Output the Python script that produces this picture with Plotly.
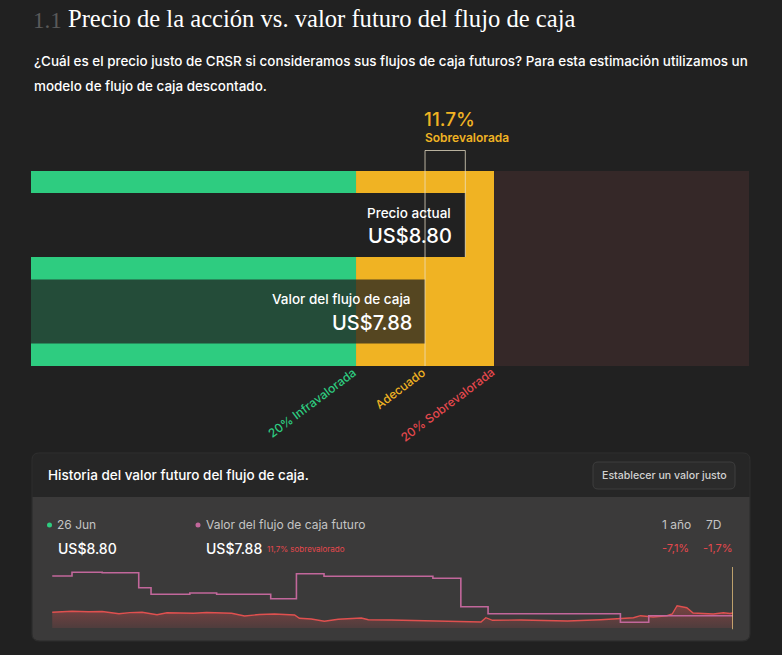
import plotly.graph_objects as go

W, H = 782, 655
BG = "#212121"
GREEN = "#2ECC80"
YELLOW = "#F0B323"
BROWN = "#352828"
RED = "#E5484D"
PINK = "#C2679B"
UI = "Inter"

# ---------------- data ----------------
price_now = 8.80
fair_value = 7.88
zone_low_pct = 0.20
zone_high_pct = 0.20
bar_labels = ["Precio actual", "Valor del flujo de caja"]
zone_labels = ["20% Infravalorada", "Adecuado", "20% Sobrevalorada"]

price_dates = ["2020-06-26", "2020-08-18", "2020-10-01", "2020-11-07", "2020-12-22", "2021-01-20",
               "2021-02-22", "2021-04-03", "2021-04-30", "2021-06-09", "2021-07-10", "2021-08-14",
               "2021-10-20", "2021-11-24", "2022-01-03", "2022-02-12", "2022-04-07", "2022-04-20",
               "2022-05-22", "2022-06-26", "2022-08-02", "2022-10-03", "2022-10-22", "2022-12-22",
               "2023-02-15", "2023-04-08", "2023-06-27", "2023-08-20", "2023-09-02", "2023-09-20",
               "2023-12-05", "2024-02-10", "2024-04-08", "2024-07-06", "2024-08-28", "2024-10-02",
               "2024-10-21", "2024-11-24", "2024-12-31", "2025-01-14", "2025-01-27", "2025-02-22",
               "2025-03-11", "2025-04-07", "2025-05-04", "2025-05-31", "2025-06-18", "2025-06-26"]
price_values = [9.05, 9.40, 9.25, 9.33, 8.57, 8.95,
                9.05, 8.22, 8.91, 8.81, 8.70, 8.98,
                8.71, 7.78, 8.29, 8.47, 8.12, 6.98,
                6.74, 5.95, 6.64, 7.09, 6.50, 6.40,
                6.30, 6.16, 6.05, 5.71, 7.19, 6.29,
                6.40, 6.22, 6.05, 6.50, 6.91, 7.19,
                7.88, 7.43, 7.88, 8.47, 11.33, 10.64,
                8.81, 8.64, 8.47, 8.91, 8.64, 8.80]

fv_dates = ["2020-06-26", "2020-08-18", "2020-11-07", "2021-02-13", "2021-03-18", "2021-06-30",
            "2021-09-10", "2022-02-02", "2022-04-12", "2022-06-25", "2023-04-13", "2023-06-27",
            "2023-09-08", "2024-08-28", "2024-11-12", "2025-06-26"]
fv_values = [21.57, 22.85, 22.70, 17.54, 15.26, 15.71,
             15.26, 13.74, 22.36, 21.47, 20.78, 10.98,
             8.57, 5.60, 7.88, 7.88]

last_date = "26 Jun"
change_1y = "-7,1%"
change_7d = "-1,7%"

# ---------------- helpers (layout positions) ----------------
def px(x):
    return x / W

def py(y):
    return 1 - y / H

def rr_path(x0, y0, x1, y1, rtl, rtr, rbr, rbl):
    pts = lambda x, y: f"{px(x):.5f},{py(y):.5f}"
    return (f"M{pts(x0 + rtl, y0)} L{pts(x1 - rtr, y0)} Q{pts(x1, y0)} {pts(x1, y0 + rtr)} "
            f"L{pts(x1, y1 - rbr)} Q{pts(x1, y1)} {pts(x1 - rbr, y1)} "
            f"L{pts(x0 + rbl, y1)} Q{pts(x0, y1)} {pts(x0, y1 - rbl)} "
            f"L{pts(x0, y0 + rtl)} Q{pts(x0, y0)} {pts(x0 + rtl, y0)} Z")

lo = fair_value * (1 - zone_low_pct)
hi = fair_value * (1 + zone_high_pct)
XMIN, XMAX = -1.12, 15.28
pct_over = (price_now / fair_value - 1) * 100

fig = go.Figure()

# valuation bars
fig.add_trace(go.Bar(
    orientation="h", y=bar_labels, x=[price_now - XMIN, fair_value - XMIN], base=XMIN,
    width=0.74, marker=dict(color=[BG, "rgba(33,33,33,0.75)"], line=dict(width=0)),
    hoverinfo="skip", showlegend=False, xaxis="x", yaxis="y"))

# history lines
fig.add_trace(go.Scatter(
    x=price_dates, y=price_values, mode="lines", line=dict(color="#E0504F", width=1.4),
    fill="tozeroy",
    fillgradient=dict(type="vertical", colorscale=[[0, "rgba(224,80,79,0.0)"], [1, "rgba(224,80,79,0.38)"]]),
    hoverinfo="skip", showlegend=False, xaxis="x2", yaxis="y2"))
fig.add_trace(go.Scatter(
    x=fv_dates, y=fv_values, mode="lines", line=dict(color=PINK, width=1.6, shape="hv"),
    hoverinfo="skip", showlegend=False, xaxis="x2", yaxis="y2"))

shapes = []
# zone bands
for x0, x1, c in [(XMIN, lo, GREEN), (lo, hi, YELLOW), (hi, XMAX, BROWN)]:
    shapes.append(dict(type="rect", xref="x", yref="y domain", x0=x0, x1=x1, y0=0, y1=1,
                       fillcolor=c, line=dict(width=0), layer="below"))
# bracket between fair value and price
bcol = "rgba(235,225,200,0.75)"
shapes.append(dict(type="line", xref="x", yref="paper", x0=fair_value, x1=fair_value,
                   y0=py(150.5), y1=py(366), line=dict(color=bcol, width=1), layer="above"))
shapes.append(dict(type="line", xref="x", yref="paper", x0=price_now, x1=price_now,
                   y0=py(150.5), y1=py(257), line=dict(color=bcol, width=1), layer="above"))
shapes.append(dict(type="line", xref="x", yref="paper", x0=fair_value, x1=price_now,
                   y0=py(150.5), y1=py(150.5), line=dict(color=bcol, width=1), layer="above"))

# history panel
shapes.append(dict(type="path", xref="paper", yref="paper",
                   path=rr_path(32, 453, 750, 641, 7, 7, 7, 7),
                   fillcolor="#262626", line=dict(color="#2f2f2f", width=1), layer="below"))
shapes.append(dict(type="path", xref="paper", yref="paper",
                   path=rr_path(32.5, 497, 749.5, 640.5, 0, 0, 7, 7),
                   fillcolor="#3b3a3a", line=dict(width=0), layer="below"))
shapes.append(dict(type="path", xref="paper", yref="paper",
                   path=rr_path(593, 462, 735, 489, 5, 5, 5, 5),
                   fillcolor="#2b2b2b", line=dict(color="#3e3e3e", width=1), layer="below"))
# today marker
shapes.append(dict(type="line", xref="x2", yref="y2 domain", x0=price_dates[-1], x1=price_dates[-1],
                   y0=-0.02, y1=1.0, line=dict(color="#E8C37E", width=1.5), layer="above"))
# legend dots
for cx, c in [(49.5, GREEN), (198, PINK)]:
    shapes.append(dict(type="circle", xref="paper", yref="paper",
                       x0=px(cx - 2.5), x1=px(cx + 2.5), y0=py(527.5), y1=py(522.5),
                       fillcolor=c, line=dict(width=0)))

ann = []
def A(text, x, y, size, color, xanchor="left", yanchor="middle", family=UI, weight=None, **kw):
    f = dict(family=family, size=size, color=color)
    if weight:
        f["weight"] = weight
    ann.append(dict(text=text, x=x, y=y, xref=kw.pop("xref", "paper"), yref=kw.pop("yref", "paper"),
                    xanchor=xanchor, yanchor=yanchor, showarrow=False, font=f, **kw))

A("1.1", px(31), py(20), 23, "#5a5a5a", family="Liberation Serif")
A("Precio de la acción vs. valor futuro del flujo de caja", px(66), py(19), 24.6, "#ffffff",
  family="Liberation Serif")
A("¿Cuál es el precio justo de CRSR si consideramos sus flujos de caja futuros? Para esta estimación utilizamos un",
  px(32), py(61), 13.45, "#ffffff", weight=500)
A("modelo de flujo de caja descontado.", px(32), py(86), 13.45, "#ffffff", weight=500)

A(f"{pct_over:.1f}%", fair_value, py(120), 19, YELLOW, xref="x", xshift=-3, weight=500)
A("Sobrevalorada", fair_value, py(137.5), 12, YELLOW, xref="x", xshift=-2, weight=600)

A(bar_labels[0], price_now, py(213), 13.5, "#ffffff", xanchor="right", xref="x", xshift=-12, weight=500)
A(f"US${price_now:.2f}", price_now, py(236.5), 20, "#ffffff", xanchor="right", xref="x", xshift=-11, weight=500)
A(bar_labels[1], fair_value, py(299), 13.5, "#ffffff", xanchor="right", xref="x", xshift=-12, weight=500)
A(f"US${fair_value:.2f}", fair_value, py(322.5), 20, "#ffffff", xanchor="right", xref="x", xshift=-11, weight=500)

for xv, t, c in [(lo, zone_labels[0], GREEN), (fair_value, zone_labels[1], YELLOW), (hi, zone_labels[2], "#E5484D")]:
    A(t, xv, py(362), 12, c, xanchor="right", yanchor="top", xref="x", xshift=6, textangle=-37, weight=500)

A("Historia del valor futuro del flujo de caja.", px(46), py(475), 13.5, "#ffffff", weight=500)
A("Establecer un valor justo", px(664), py(475.5), 10.6, "#d2d2d2", xanchor="center", weight=500)

A(last_date, px(55), py(524.5), 12, "#c4c4c4")
A(f"US${price_now:.2f}", px(56), py(548), 14, "#ffffff", weight=500)
A("Valor del flujo de caja futuro", px(204), py(524.5), 12, "#c4c4c4")
A(f"US${fair_value:.2f}", px(204), py(548), 14, "#ffffff", weight=500)
A(f"{pct_over:.1f}% sobrevalorado".replace(".", ","), px(265), py(549), 8, "#E5484D")
A("1 año", px(693), py(524.5), 12, "#c4c4c4", xanchor="right")
A("7D", px(723), py(524.5), 12, "#c4c4c4", xanchor="right")
A(change_1y, px(691), py(548), 11, "#E5484D", xanchor="right")
A(change_7d, px(735), py(548), 11, "#E5484D", xanchor="right")

ax_off = dict(visible=False, showgrid=False, zeroline=False, fixedrange=True)
fig.update_layout(
    width=W, height=H, margin=dict(l=0, r=0, t=0, b=0),
    paper_bgcolor=BG, plot_bgcolor="rgba(0,0,0,0)",
    barmode="overlay",
    xaxis=dict(domain=[px(31), px(749)], range=[XMIN, XMAX], **ax_off),
    yaxis=dict(domain=[py(366), py(171)], range=[1.63, -0.624], type="category", **ax_off),
    xaxis2=dict(domain=[px(50), px(733)], range=["2020-06-20", price_dates[-1]], type="date", anchor="y2", **ax_off),
    yaxis2=dict(domain=[py(628), py(567)], range=[3.64, 24.67], anchor="x2", **ax_off),
    shapes=shapes, annotations=ann, showlegend=False,
)

fig.write_html("out.html")
